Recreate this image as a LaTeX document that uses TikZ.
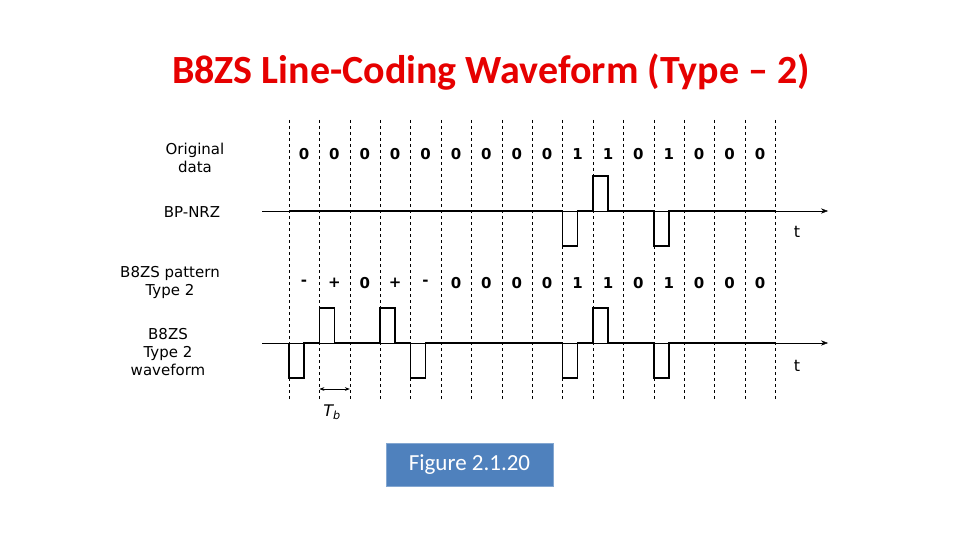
\documentclass[tikz,border=0pt]{standalone}
\usepackage{fontspec}
\setmainfont{DejaVu Sans}
\newfontfamily\titlefont{Carlito}
\usetikzlibrary{arrows.meta}
\definecolor{figblue}{RGB}{79,129,189}
\definecolor{titlered}{RGB}{230,0,0}
\begin{document}
\begin{tikzpicture}[x=1pt,y=-1pt,
    lbl/.style={font=\fontsize{15}{18}\selectfont,align=center},
    bitlbl/.style={font=\fontsize{15}{15}\selectfont\bfseries},
    wave/.style={line width=1.6pt,line join=miter}]
  \useasboundingbox (0,0) rectangle (960,540);
  \node[font=\titlefont\bfseries\fontsize{40}{40}\selectfont,text=titlered] (title) at (491,72) {B8ZS Line-Coding Waveform (Type – 2)};

  % bit boundaries
  \foreach \i in {0,...,16}
    \draw[dashed,line width=0.6pt] (289+30.4*\i,120) -- (289+30.4*\i,400);

  % row labels
  \node[lbl] (orig) at (195,158) {Original\\data};
  \node[lbl] (nrz) at (192,212) {BP-NRZ};
  \node[lbl] (pat) at (170,282) {B8ZS pattern\\Type 2};
  \node[lbl] (wf) at (168,352) {B8ZS\\Type 2\\waveform};

  % bits
  \foreach \b [count=\i from 0] in {0,0,0,0,0,0,0,0,0,1,1,0,1,0,0,0}
    \node[bitlbl] at (304+30.4*\i,154) {\b};
  \foreach \b [count=\i from 0] in {-,+,0,+,-,0,0,0,0,1,1,0,1,0,0,0}
    \node[bitlbl] at (304+30.4*\i,283) {\b};

  % axes
  \draw[-{Stealth[length=7pt]}] (262,211) -- (828,211) coordinate (ax1);
  \node[font=\fontsize{16}{16}\selectfont] (t1) at (797,232) {t};
  \draw[-{Stealth[length=7pt]}] (262,343) -- (828,343) coordinate (ax2);
  \node[font=\fontsize{16}{16}\selectfont] (t2) at (797,366) {t};

  % BP-NRZ waveform
  \foreach \l [count=\i from 0] in {0,0,0,0,0,0,0,0,0,-1,1,0,-1,0,0,0}
    \draw[wave] (289+30.4*\i,211) -- ++(0,-35*\l) -- ++(15,0) -- ++(0,35*\l) -- (319.4+30.4*\i,211);

  % B8ZS waveform
  \foreach \l [count=\i from 0] in {-1,1,0,1,-1,0,0,0,0,-1,1,0,-1,0,0,0}
    \draw[wave] (289+30.4*\i,343) -- ++(0,-35*\l) -- ++(15,0) -- ++(0,35*\l) -- (319.4+30.4*\i,343);

  % bit period
  \draw[{Stealth[length=5pt]}-{Stealth[length=5pt]},line width=0.6pt] (319.4,389) -- (349.8,389);
  \node[font=\fontsize{16}{16}\selectfont\itshape] (tb) at (332,412) {T\textsubscript{\itshape b}};

  % caption
  \node[fill=figblue,draw=figblue!70!white,text=white,minimum width=167pt,minimum height=43pt,
        font=\titlefont\fontsize{23}{23}\selectfont] (fig) at (469.5,464.5) {Figure 2.1.20};
\end{tikzpicture}
\end{document}
